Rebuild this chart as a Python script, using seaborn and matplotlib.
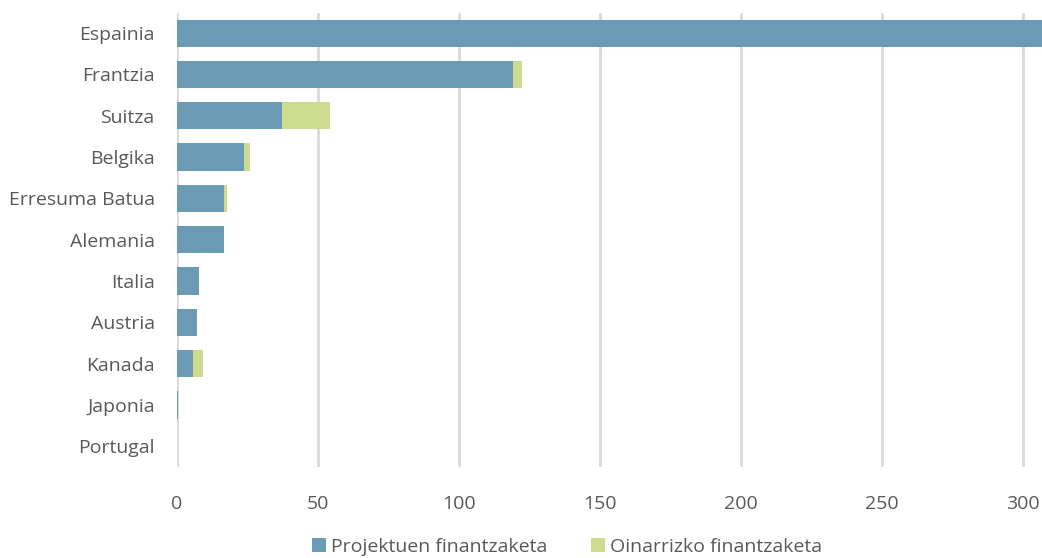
import matplotlib
matplotlib.use("Agg")
import matplotlib.pyplot as plt
import seaborn as sns
import pandas as pd
from matplotlib.patches import Patch

countries = ["Espainia", "Frantzia", "Suitza", "Belgika", "Erresuma Batua", "Alemania",
             "Italia", "Austria", "Kanada", "Japonia", "Portugal"]
proiektuen = [320, 119, 37.3, 23.7, 16.8, 16.8, 7.7, 7.2, 5.8, 0.5, 0.0]
oinarrizko = [0, 3.5, 17.1, 2.3, 1.1, 0.0, 0.0, 0.0, 3.4, 0.0, 0.0]
series_names = ["Projektuen finantzaketa", "Oinarrizko finantzaketa"]
xticks = [0, 50, 100, 150, 200, 250, 300]

blue = "#6B9AB4"
green = "#CDDB8E"
text_c = "#595959"

sns.set_theme(style="white")
plt.rcParams["font.family"] = ["Open Sans", "DejaVu Sans"]

df = pd.DataFrame({"country": countries, "p": proiektuen, "o": oinarrizko})
df["total"] = df["p"] + df["o"]

fig = plt.figure(figsize=(10.42, 5.58), dpi=100)
ax = fig.add_axes([177/1042, 1 - 467/558, 1 - 177/1042, (467 - 12.5)/558])

sns.barplot(data=df, y="country", x="total", color=green, orient="h", width=0.66,
            ax=ax, saturation=1, edgecolor="none")
sns.barplot(data=df, y="country", x="p", color=blue, orient="h", width=0.66,
            ax=ax, saturation=1, edgecolor="none")

ax.set_xlim(0, 306.8)
ax.set_xticks(xticks)
ax.set_xticklabels([str(t) for t in xticks])
ax.set_xlabel("")
ax.set_ylabel("")
ax.grid(axis="x", color="#D9D9D9", linewidth=2)
ax.set_axisbelow(True)
for s in ax.spines.values():
    s.set_visible(False)
ax.tick_params(axis="both", length=0, labelsize=14, colors=text_c)
ax.tick_params(axis="x", pad=20)
ax.tick_params(axis="y", pad=16)

handles = [Patch(facecolor=blue, edgecolor="none"), Patch(facecolor=green, edgecolor="none")]
fig.legend(handles, series_names, loc="center", bbox_to_anchor=(567/1042, 1 - 547/558),
           ncol=2, frameon=False, fontsize=14, labelcolor=text_c, handlelength=0.75,
           handleheight=0.75, handletextpad=0.25, columnspacing=2.2)

fig.savefig("out.png", dpi=100)
